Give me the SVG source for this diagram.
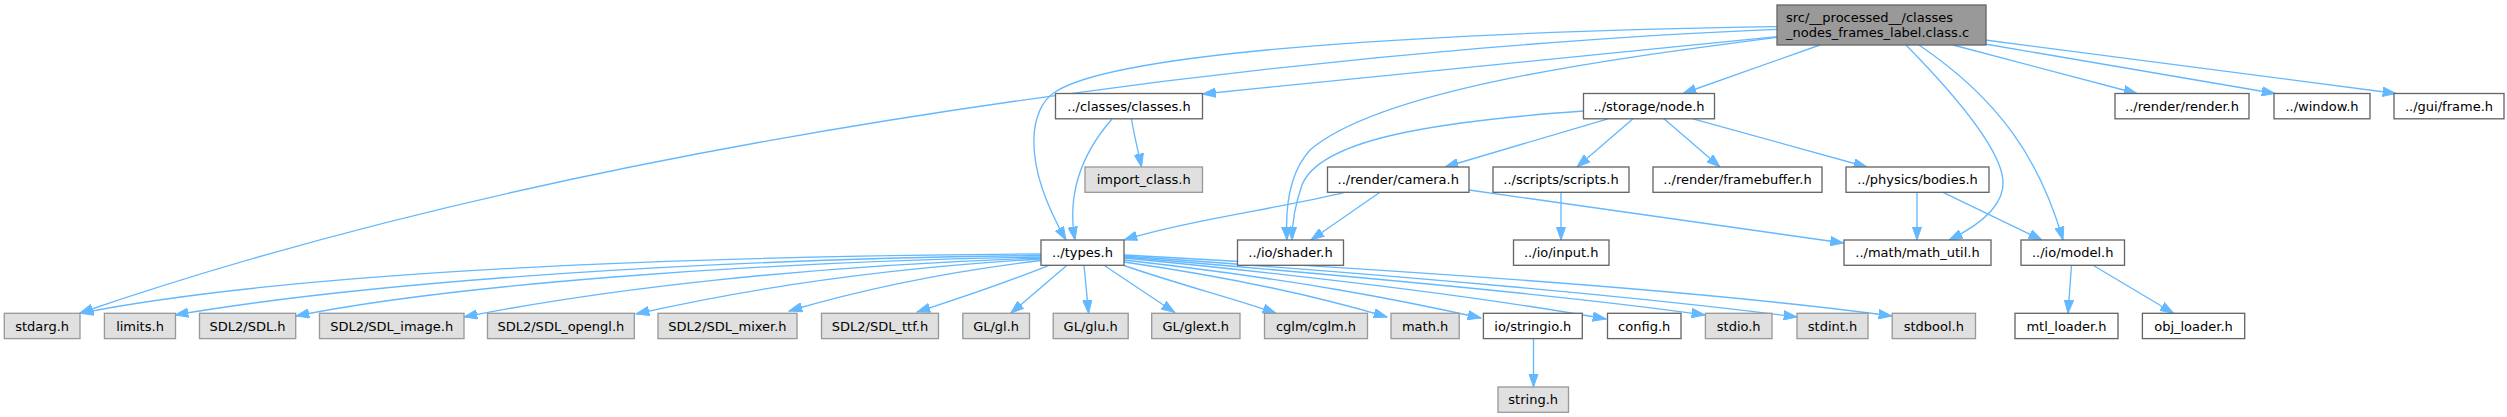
<svg xmlns="http://www.w3.org/2000/svg" width="2507" height="417" viewBox="0 0 2507 417">
<style>
.n rect{fill:#ffffff;stroke:#666666;stroke-width:1.33}
.g rect{fill:#e0e0e0;stroke:#999999;stroke-width:1.33}
.m rect{fill:#999999;stroke:#666666;stroke-width:1.33}
text{font-family:"DejaVu Sans","Liberation Sans",sans-serif;font-size:13px;fill:#000000}
.c{text-anchor:middle}
#edges path{fill:none;stroke:#63b8ff;stroke-width:1.33;marker-end:url(#ah)}
</style>
<defs>
<marker id="ah" markerUnits="userSpaceOnUse" markerWidth="14" markerHeight="10" viewBox="0 0 14 10" refX="13.3" refY="5" orient="auto">
<polygon points="0,0.33 13.3,5 0,9.67" fill="#63b8ff" stroke="#63b8ff" stroke-width="1"/>
</marker>
</defs>
<rect width="2507" height="417" fill="#ffffff"/>
<g id="edges">
<path d="M1777,26.7 C1450,32 1120,50 1055,92 C1030,108 1020,160 1066,240"/>
<path d="M1777,29.3 C1500,40 700,100 80,313"/>
<path d="M1777,36.7 C1600,54 1400,74 1202.5,94"/>
<path d="M1777,37.3 C1600,60 1380,90 1310,150 C1290,172 1285,205 1287,240"/>
<path d="M1820,45 L1683,93.5"/>
<path d="M1906,45 C1960,100 2000,150 2003,180 C2005,205 1980,225 1949,240"/>
<path d="M1919,45 C2000,100 2040,160 2063,240"/>
<path d="M1953,45 L2137,93.5"/>
<path d="M1985,44 L2275,93.5"/>
<path d="M1985,40 L2396,93.5"/>
<path d="M1131.5,119 C1134,135 1138,150 1141.5,167"/>
<path d="M1112,119 C1085,150 1066,190 1075,240"/>
<path d="M1583.5,111 C1430,122 1320,140 1302,185 C1295,205 1292,222 1292,240"/>
<path d="M1608,118.8 L1445,167"/>
<path d="M1633,118.8 L1577,167"/>
<path d="M1664,118.8 L1720,167"/>
<path d="M1693,118.8 L1867,167"/>
<path d="M1345,192.3 C1280,208 1180,222 1124,240"/>
<path d="M1380,192.3 L1311,240"/>
<path d="M1469,190 L1843.5,243"/>
<path d="M1561,192.3 L1561,240"/>
<path d="M1917,192.3 L1917,240"/>
<path d="M1943,192.3 L2042,240"/>
<path d="M2071.5,265.3 L2068,313.3"/>
<path d="M2093,265.3 L2173.5,313.3"/>
<path d="M1533.5,338.6 L1533.5,387"/>
<path d="M1041,254 C700,256 300,270 80,313.3"/>
<path d="M1041,255.5 C720,259 380,280 175,315"/>
<path d="M1041,257 C750,262 450,285 296,316"/>
<path d="M1041,258 C800,266 600,290 464,317"/>
<path d="M1041,259 C850,270 720,295 636,314"/>
<path d="M1041,260.5 C920,275 840,296 789,311"/>
<path d="M1049,265.3 C1000,285 960,298 917,312"/>
<path d="M1067,265.3 L1010.7,313.3"/>
<path d="M1084,265.3 L1088.6,313.3"/>
<path d="M1104,265.3 L1174.7,312.5"/>
<path d="M1124,265.5 C1180,285 1240,300 1276,313.3"/>
<path d="M1124,262 C1250,280 1330,300 1387,317"/>
<path d="M1124,260 C1300,280 1400,300 1481,318"/>
<path d="M1124,258 C1350,280 1500,300 1606,319"/>
<path d="M1124,257 C1400,280 1600,300 1705,315"/>
<path d="M1124,256 C1400,275 1650,298 1797,317"/>
<path d="M1124,255 C1400,270 1700,290 1892,316"/>
</g>
<g id="main" class="m"><rect x="1777" y="5" width="209" height="40"/><text x="1786" y="21.5">src/__processed__/classes</text><text x="1786" y="36.5">_nodes_frames_label.class.c</text></g>
<g id="classes" class="n"><rect x="1055.5" y="93.5" width="147" height="25.3"/><text class="c" x="1129" y="110.7">../classes/classes.h</text></g>
<g id="storage_node" class="n"><rect x="1583.5" y="93.5" width="131" height="25.3"/><text class="c" x="1649" y="110.7">../storage/node.h</text></g>
<g id="render_render" class="n"><rect x="2115" y="93.5" width="134" height="25.3"/><text class="c" x="2182" y="110.7">../render/render.h</text></g>
<g id="window" class="n"><rect x="2274" y="93.5" width="96" height="25.3"/><text class="c" x="2322" y="110.7">../window.h</text></g>
<g id="gui_frame" class="n"><rect x="2394" y="93.5" width="110" height="25.3"/><text class="c" x="2449" y="110.7">../gui/frame.h</text></g>
<g id="import_class" class="g"><rect x="1085" y="167" width="117.5" height="25.3"/><text class="c" x="1143.7" y="184.2">import_class.h</text></g>
<g id="render_camera" class="n"><rect x="1327.5" y="167" width="141.5" height="25.3"/><text class="c" x="1398.2" y="184.2">../render/camera.h</text></g>
<g id="scripts" class="n"><rect x="1493" y="167" width="136" height="25.3"/><text class="c" x="1561" y="184.2">../scripts/scripts.h</text></g>
<g id="framebuffer" class="n"><rect x="1653" y="167" width="169" height="25.3"/><text class="c" x="1737.5" y="184.2">../render/framebuffer.h</text></g>
<g id="bodies" class="n"><rect x="1846" y="167" width="143" height="25.3"/><text class="c" x="1917.5" y="184.2">../physics/bodies.h</text></g>
<g id="types" class="n"><rect x="1041" y="240" width="83" height="25.3"/><text class="c" x="1082.5" y="257.2">../types.h</text></g>
<g id="io_shader" class="n"><rect x="1237.5" y="240" width="106" height="25.3"/><text class="c" x="1290.5" y="257.2">../io/shader.h</text></g>
<g id="io_input" class="n"><rect x="1513.5" y="240" width="95.5" height="25.3"/><text class="c" x="1561.2" y="257.2">../io/input.h</text></g>
<g id="math_util" class="n"><rect x="1844" y="240" width="147" height="25.3"/><text class="c" x="1917.5" y="257.2">../math/math_util.h</text></g>
<g id="io_model" class="n"><rect x="2021" y="240" width="103.5" height="25.3"/><text class="c" x="2072.7" y="257.2">../io/model.h</text></g>
<g id="stdarg" class="g"><rect x="4.3" y="313.3" width="75.7" height="25.3"/><text class="c" x="42.1" y="330.5">stdarg.h</text></g>
<g id="limits" class="g"><rect x="104.4" y="313.3" width="71.1" height="25.3"/><text class="c" x="140" y="330.5">limits.h</text></g>
<g id="sdl" class="g"><rect x="199.5" y="313.3" width="96.2" height="25.3"/><text class="c" x="247.6" y="330.5">SDL2/SDL.h</text></g>
<g id="sdl_image" class="g"><rect x="319.5" y="313.3" width="144.5" height="25.3"/><text class="c" x="391.7" y="330.5">SDL2/SDL_image.h</text></g>
<g id="sdl_opengl" class="g"><rect x="487.5" y="313.3" width="146.8" height="25.3"/><text class="c" x="560.9" y="330.5">SDL2/SDL_opengl.h</text></g>
<g id="sdl_mixer" class="g"><rect x="658" y="313.3" width="139" height="25.3"/><text class="c" x="727.5" y="330.5">SDL2/SDL_mixer.h</text></g>
<g id="sdl_ttf" class="g"><rect x="821.5" y="313.3" width="117" height="25.3"/><text class="c" x="880" y="330.5">SDL2/SDL_ttf.h</text></g>
<g id="gl" class="g"><rect x="962.8" y="313.3" width="66.7" height="25.3"/><text class="c" x="996.1" y="330.5">GL/gl.h</text></g>
<g id="glu" class="g"><rect x="1053.2" y="313.3" width="75" height="25.3"/><text class="c" x="1090.7" y="330.5">GL/glu.h</text></g>
<g id="glext" class="g"><rect x="1151.7" y="313.3" width="88.3" height="25.3"/><text class="c" x="1195.8" y="330.5">GL/glext.h</text></g>
<g id="cglm" class="g"><rect x="1264.5" y="313.3" width="103" height="25.3"/><text class="c" x="1316" y="330.5">cglm/cglm.h</text></g>
<g id="math" class="g"><rect x="1391" y="313.3" width="68.2" height="25.3"/><text class="c" x="1425.1" y="330.5">math.h</text></g>
<g id="stringio" class="n"><rect x="1483.4" y="313.3" width="98.9" height="25.3"/><text class="c" x="1532.8" y="330.5">io/stringio.h</text></g>
<g id="config" class="n"><rect x="1607.5" y="313.3" width="73.5" height="25.3"/><text class="c" x="1644.2" y="330.5">config.h</text></g>
<g id="stdio" class="g"><rect x="1705.4" y="313.3" width="66.6" height="25.3"/><text class="c" x="1738.7" y="330.5">stdio.h</text></g>
<g id="stdint" class="g"><rect x="1797" y="313.3" width="71" height="25.3"/><text class="c" x="1832.5" y="330.5">stdint.h</text></g>
<g id="stdbool" class="g"><rect x="1892.2" y="313.3" width="83.3" height="25.3"/><text class="c" x="1933.8" y="330.5">stdbool.h</text></g>
<g id="mtl_loader" class="n"><rect x="2015" y="313.3" width="103" height="25.3"/><text class="c" x="2066.5" y="330.5">mtl_loader.h</text></g>
<g id="obj_loader" class="n"><rect x="2142.4" y="313.3" width="102.3" height="25.3"/><text class="c" x="2193.5" y="330.5">obj_loader.h</text></g>
<g id="string" class="g"><rect x="1498" y="387" width="70.5" height="25.3"/><text class="c" x="1533.2" y="404.2">string.h</text></g>
</svg>
